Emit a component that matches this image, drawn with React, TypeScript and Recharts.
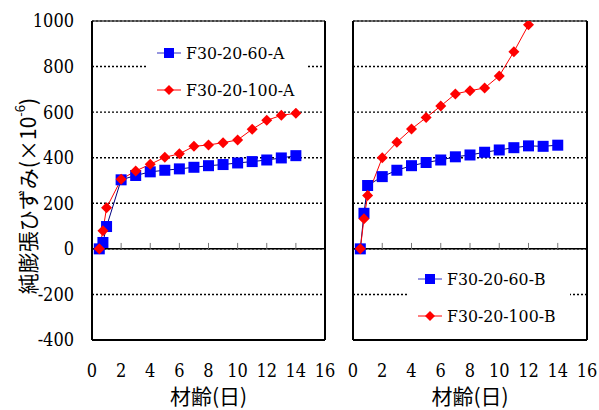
import React from 'react';
import { LineChart, Line, XAxis, YAxis, CartesianGrid, ReferenceLine, Legend } from 'recharts';

// 材齢(日)
const ages = [0.5, 0.75, 1, 2, 3, 4, 5, 6, 7, 8, 9, 10, 11, 12, 13, 14];

const a60 = [0, 28, 98, 303, 322, 338, 345, 351, 358, 365, 370, 377, 383, 390, 399, 409];
const a100 = [0, 80, 180, 305, 342, 371, 402, 417, 450, 456, 466, 478, 525, 564, 586, 595];
const b60 = [0, 156, 278, 317, 345, 365, 379, 390, 404, 412, 424, 434, 444, 452, 450, 455];
const b100 = [0, 132, 234, 400, 468, 526, 576, 627, 680, 694, 706, 759, 865, 983, 1120];

const xTicks = [0, 2, 4, 6, 8, 10, 12, 14, 16];
const yTicks = [-400, -200, 0, 200, 400, 600, 800, 1000];
const zeroTicks = [2, 4, 6, 8, 10, 12, 14];

const rowsA = ages.map((age, i) => ({ age, s60: a60[i], s100: a100[i] }));
const rowsB = ages.map((age, i) => ({ age, s60: b60[i], s100: b100[i] }));

const SERIF = 'DejaVu Serif Condensed';
const CJK = 'Noto Sans CJK JP';

const BLUE_LINE = '#000080';
const BLUE = '#0000ff';
const RED = '#ff0000';

const squareDot = (props: any) => {
  const { cx, cy, index } = props;
  if (cx == null || cy == null) return <g key={index} />;
  return <rect key={index} x={cx - 5.5} y={cy - 5.5} width={11} height={11} fill={BLUE} />;
};

const diamondDot = (props: any) => {
  const { cx, cy, index } = props;
  if (cx == null || cy == null) return <g key={index} />;
  const r = 5.5;
  return (
    <polygon key={index} points={`${cx},${cy - r} ${cx + r},${cy} ${cx},${cy + r} ${cx - r},${cy}`} fill={RED} />
  );
};

const LegendBox = ({ payload, padLeft }: any) => {
  // keep the 60 series on top, as in the original figure
  const items = [...(payload || [])].sort((p: any, q: any) =>
    String(p.dataKey) === 's60' ? -1 : String(q.dataKey) === 's60' ? 1 : 0
  );
  return (
    <div style={{ background: '#fff', width: '100%', height: '100%' }}>
      {items.map((p: any) => {
        const diamond = String(p.dataKey) === 's100';
        return (
          <div key={p.value} style={{ height: 37, display: 'flex', alignItems: 'center', paddingLeft: padLeft, whiteSpace: 'nowrap' }}>
            <svg width={24} height={12} style={{ marginRight: 5 }}>
              <line x1={0} y1={6} x2={24} y2={6} stroke={diamond ? RED : '#3030c0'} strokeWidth={1} />
              {diamond ? (
                <polygon points="12,1 17,6 12,11 7,6" fill={RED} />
              ) : (
                <rect x={7} y={1} width={10} height={10} fill={BLUE} />
              )}
            </svg>
            <span style={{ fontFamily: SERIF, fontSize: 17.5, color: '#000', lineHeight: '20px' }}>{p.value}</span>
          </div>
        );
      })}
    </div>
  );
};

const yTitle = () => (
  <text
    x={27}
    y={196}
    transform="rotate(-90 27 196)"
    textAnchor="middle"
    dominantBaseline="central"
    fontFamily={CJK}
    fontSize={21}
    fill="#000"
  >
    純膨張ひずみ(×10
    <tspan dy={-8} fontSize={13}>-6</tspan>
    <tspan dy={8}>)</tspan>
  </text>
);

const Panel = ({ rows, names, width, margin, showY, legendStyle, legendPad }: any) => (
  <LineChart width={width} height={410} data={rows} margin={margin}>
    <CartesianGrid vertical={false} stroke="#000" strokeWidth={1.4} strokeDasharray="2 2" />
    <XAxis
      dataKey="age"
      type="number"
      domain={[0, 16]}
      ticks={xTicks}
      height={70}
      axisLine={false}
      tickLine={false}
      tickMargin={18}
      tick={{ fill: '#000', fontSize: 18, fontFamily: SERIF }}
      label={{ value: '材齢(日)', position: 'insideBottom', offset: 6, fill: '#000', fontSize: 21, fontFamily: CJK }}
    />
    <YAxis
      type="number"
      domain={[-400, 1000]}
      ticks={yTicks}
      allowDataOverflow
      hide={!showY}
      width={60}
      axisLine={false}
      tickLine={false}
      tickMargin={12}
      tick={{ fill: '#000', fontSize: 18, fontFamily: SERIF }}
      label={showY ? yTitle : undefined}
    />
    <ReferenceLine y={0} stroke="#000" strokeWidth={1.5} />
    {zeroTicks.map((t) => (
      <ReferenceLine key={t} segment={[{ x: t, y: 0 }, { x: t, y: 26 }]} stroke="#777" strokeWidth={1} />
    ))}
    <ReferenceLine y={1000} stroke="#444" strokeWidth={1.5} />
    <ReferenceLine y={-400} stroke="#000" strokeWidth={2} />
    <ReferenceLine x={0} stroke="#000" strokeWidth={2} />
    <ReferenceLine x={16} stroke="#000" strokeWidth={2} />
    <Legend
      layout="vertical"
      align="center"
      verticalAlign="middle"
      wrapperStyle={legendStyle}
      content={(props: any) => <LegendBox {...props} padLeft={legendPad} />}
    />
    <Line
      dataKey="s60"
      name={names[0]}
      stroke={BLUE_LINE}
      strokeWidth={1}
      dot={squareDot}
      activeDot={false}
      isAnimationActive={false}
    />
    <Line
      dataKey="s100"
      name={names[1]}
      stroke={RED}
      strokeWidth={1}
      dot={diamondDot}
      activeDot={false}
      isAnimationActive={false}
    />
  </LineChart>
);

export default function App() {
  return (
    <div style={{ position: 'absolute', left: 0, top: 0, width: 599, height: 410, background: '#fff' }}>
      <div style={{ position: 'absolute', left: 0, top: 0 }}>
        <Panel
          rows={rowsA}
          names={['F30-20-60-A', 'F30-20-100-A']}
          width={340}
          margin={{ top: 21, right: 15, bottom: 0, left: 32 }}
          showY
          legendStyle={{ left: 148, top: 34, width: 160, height: 74 }}
          legendPad={9}
        />
      </div>
      <div style={{ position: 'absolute', left: 340, top: 0 }}>
        <Panel
          rows={rowsB}
          names={['F30-20-60-B', 'F30-20-100-B']}
          width={259}
          margin={{ top: 21, right: 12, bottom: 0, left: 13 }}
          showY={false}
          legendStyle={{ left: 68, top: 260, width: 162, height: 74 }}
          legendPad={10}
        />
      </div>
    </div>
  );
}
